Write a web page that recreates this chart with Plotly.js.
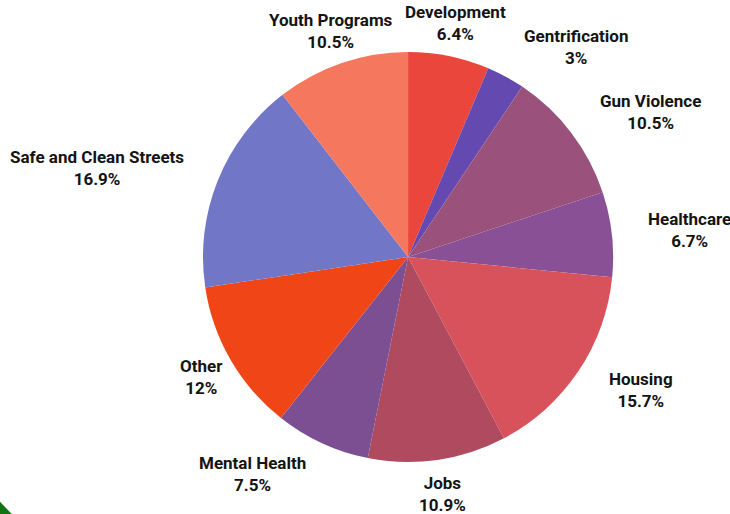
<!DOCTYPE html>
<html><head><meta charset="utf-8">
<script src="https://cdn.plot.ly/plotly-3.0.1.min.js"></script>
<style>html,body{margin:0;padding:0;background:#fff;}#chart{width:730px;height:514px;}</style>
</head><body><div id="chart"></div>
<script>
const categories = ["Development","Gentrification","Gun Violence","Healthcare","Housing","Jobs","Mental Health","Other","Safe and Clean Streets","Youth Programs"];
const percents = [6.4, 3, 10.5, 6.7, 15.7, 10.9, 7.5, 12, 16.9, 10.5];
const colors = ["#EA463B","#6449B0","#9A517C","#8A5096","#D8525B","#B04A5F","#7B4F92","#F04516","#7276C6","#F4775E"];

const W = 730, H = 514;
const domX = [0.278, 0.840], domY = [0.101, 0.899];
const FONT = "Roboto, Arial, sans-serif";
const FS = 17;

// label placement (style): radial factor and horizontal anchoring
const labelRadiusFactor = 1.166;
const anchorOverride = {"Other": "center"};

const trace = {
  type: "pie",
  labels: categories,
  values: percents,
  sort: false,
  direction: "clockwise",
  rotation: 0,
  marker: {colors: colors, line: {color: "#ffffff", width: 0}},
  textinfo: "none",
  domain: {x: domX, y: domY},
  showlegend: false,
  hoverinfo: "label+percent"
};

// build label annotations from the data (mid-angle of each slice)
const total = percents.reduce((a, b) => a + b, 0);
const cx = (domX[0] + domX[1]) / 2 * W;
const cy = (1 - (domY[0] + domY[1]) / 2) * H;
const R = Math.min((domX[1] - domX[0]) * W, (domY[1] - domY[0]) * H) / 2;
const annotations = [];
let cum = 0;
categories.forEach((cat, i) => {
  const mid = (cum + percents[i] / 2) / total * 2 * Math.PI;
  cum += percents[i];
  const s = Math.sin(mid), c = Math.cos(mid);
  const px = cx + R * labelRadiusFactor * s;
  const py = cy - R * labelRadiusFactor * c;
  let xa = Math.abs(s) < 0.35 ? "center" : (s > 0 ? "left" : "right");
  if (anchorOverride[cat]) xa = anchorOverride[cat];
  annotations.push({
    xref: "paper", yref: "paper",
    x: px / W, y: 1 - py / H,
    xanchor: xa, yanchor: "middle",
    align: "center",
    showarrow: false,
    text: "<b>" + cat + "</b><br><b>" + percents[i] + "%</b>",
    font: {family: FONT, size: FS, color: "#141414"}
  });
});

const layout = {
  width: W, height: H,
  margin: {l: 0, r: 0, t: 0, b: 0},
  paper_bgcolor: "#ffffff",
  showlegend: false,
  annotations: annotations,
  shapes: [{type: "path", xref: "paper", yref: "paper", path: "M 0 0.024 L 0.016 0 L 0 0 Z", fillcolor: "#137313", line: {width: 0}}]
};
Plotly.newPlot("chart", [trace], layout, {displayModeBar: false, staticPlot: true});
</script></body></html>
